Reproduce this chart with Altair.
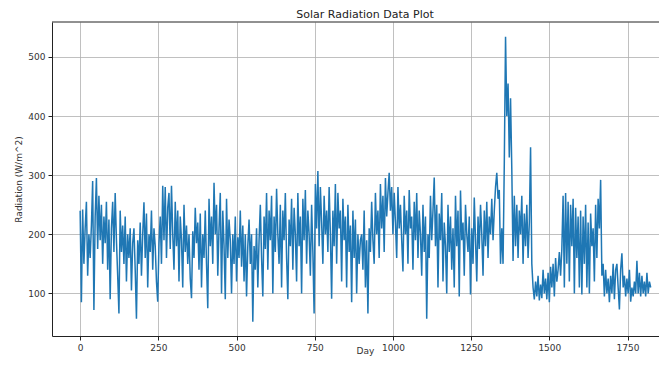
import altair as alt
import pandas as pd

# Day index (every 4th day)
days = list(range(0, 1825, 4))

# Radiation values (W/m^2), 25 per 100 days
radiation = [
    # 0-96
    240, 85, 242, 150, 210, 255, 130, 200, 160, 215, 290, 72, 230, 295, 175, 265, 190, 250, 150, 230, 185, 255, 140, 225, 90,
    # 100-196
    210, 255, 170, 270, 190, 130, 66, 240, 170, 215, 150, 230, 120, 200, 160, 210, 105, 185, 210, 140, 57, 190, 150, 220, 130,
    # 200-296
    200, 254, 160, 235, 110, 200, 170, 240, 140, 210, 180, 120, 86, 185, 230, 150, 282, 190, 280, 160, 245, 270, 175, 282, 200,
    # 300-396
    140, 255, 180, 240, 120, 230, 190, 110, 250, 170, 215, 150, 200, 125, 92, 205, 160, 245, 185, 220, 140, 235, 110, 200, 160,
    # 400-496
    240, 150, 75, 260, 180, 230, 150, 287, 200, 250, 130, 210, 270, 100, 240, 180, 90, 260, 160, 225, 190, 100, 200, 150, 230,
    # 500-596
    120, 195, 160, 240, 145, 215, 120, 200, 95, 180, 225, 150, 200, 52, 180, 140, 210, 110, 190, 250, 160, 95, 230, 175, 270,
    # 600-696
    140, 240, 190, 265, 100, 230, 170, 277, 200, 150, 250, 110, 240, 190, 270, 160, 90, 225, 180, 260, 140, 245, 200, 120, 270,
    # 700-796
    180, 230, 100, 260, 190, 275, 150, 240, 200, 130, 250, 170, 66, 285, 210, 307, 180, 280, 220, 150, 265, 200, 240, 170, 280,
    # 800-896
    200, 91, 240, 180, 285, 150, 270, 210, 240, 120, 260, 190, 230, 110, 250, 170, 215, 85, 240, 160, 225, 100, 200, 150, 190,
    # 900-996
    200, 140, 240, 110, 190, 66, 210, 170, 255, 190, 150, 270, 200, 240, 160, 285, 210, 265, 170, 295, 230, 270, 304, 240, 280,
    # 1000-1096
    200, 270, 220, 160, 280, 210, 250, 190, 137, 265, 200, 240, 150, 275, 210, 230, 140, 255, 190, 270, 160, 240, 200, 130, 250,
    # 1100-1196
    170, 230, 57, 200, 160, 265, 190, 240, 296, 180, 250, 110, 235, 190, 270, 120, 220, 180, 100, 250, 170, 230, 140, 210, 110,
    # 1200-1296
    265, 180, 240, 95, 274, 190, 220, 130, 250, 200, 170, 230, 98, 210, 150, 262, 190, 120, 230, 175, 250, 200, 130, 240, 180,
    # 1300-1396
    255, 160, 230, 200, 260, 190, 240, 280, 304, 260, 275, 150, 210, 150, 320, 534, 400, 455, 330, 430, 310, 155, 265, 180, 250,
    # 1400-1496
    160, 240, 200, 265, 150, 235, 180, 250, 160, 220, 347, 150, 110, 90, 120, 95, 130, 88, 115, 92, 140, 100, 125, 90, 135,
    # 1500-1596
    85, 145, 110, 150, 95, 160, 120, 140, 170, 130, 175, 265, 110, 270, 150, 255, 120, 250, 180, 260, 100, 245, 160, 230, 110,
    # 1600-1696
    240, 98, 230, 150, 250, 110, 220, 100, 235, 180, 210, 120, 250, 160, 260, 210, 292, 130, 150, 95, 140, 100, 125, 85, 130,
    # 1700-1796
    100, 150, 90, 140, 150, 110, 73, 140, 168, 110, 130, 95, 125, 100, 140, 86, 110, 95, 120, 100, 155, 100, 135, 95, 130,
    # 1800-1824
    100, 120, 95, 135, 100, 120, 110,
]

x_ticks = [0, 250, 500, 750, 1000, 1250, 1500, 1750]
y_ticks = [100, 200, 300, 400, 500]

df = pd.DataFrame({"Day": days, "Radiation": radiation})

W, H = 607, 314
FONT = "DejaVu Sans"

line = alt.Chart(df).mark_line(color="#1f77b4", strokeWidth=1.5, clip=True).encode(
    x=alt.X(
        "Day:Q",
        scale=alt.Scale(domain=[-90, 1850.6], nice=False, zero=False),
        axis=alt.Axis(
            values=x_ticks, title="Day", grid=True, format="d",
            titleX=313, titleY=17, titleBaseline="alphabetic",
        ),
    ),
    y=alt.Y(
        "Radiation:Q",
        scale=alt.Scale(domain=[28, 559], nice=False, zero=False),
        axis=alt.Axis(values=y_ticks, title="Radiation (W/m^2)", grid=True, format="d"),
    ),
)

top = alt.Chart(pd.DataFrame({"a": [0]})).mark_rule(color="#222222", strokeWidth=1).encode(
    x=alt.value(0), x2=alt.value(W), y=alt.value(0)
)

chart = (
    alt.layer(line, top)
    .properties(
        width=W,
        height=H,
        title=alt.TitleParams(
            "Solar Radiation Data Plot", font=FONT, fontSize=11, fontWeight="normal",
            color="#222222", dx=9.5, offset=2,
        ),
        autosize=alt.AutoSizeParams(type="none"),
        padding={"left": 44, "top": 14, "right": 0, "bottom": 20},
    )
    .configure_view(stroke=None)
    .configure_axis(
        domainColor="#222222",
        domainWidth=1,
        tickColor="#222222",
        tickSize=4,
        labelFont=FONT,
        labelFontSize=9,
        labelColor="#333333",
        titleFont=FONT,
        titleFontSize=9,
        titleFontWeight="normal",
        titleColor="#333333",
        gridColor="#b0b0b0",
        gridWidth=0.8,
        labelPadding=3,
    )
)

chart.save("out.html", embed_options={"renderer": "svg", "actions": False})
